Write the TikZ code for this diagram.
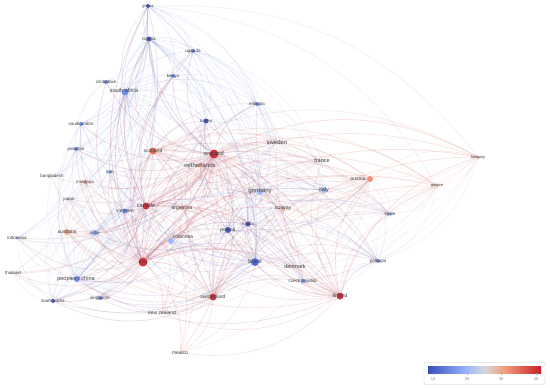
\documentclass[tikz,border=0pt]{standalone}
\usepackage{fontspec}
\setmainfont{Liberation Sans}
\pgfdeclarelayer{edges}
\pgfsetlayers{edges,main}
\definecolor{vA}{RGB}{59,76,192}
\definecolor{vB}{RGB}{98,130,234}
\definecolor{vC}{RGB}{150,180,250}
\definecolor{vD}{RGB}{215,215,220}
\definecolor{vE}{RGB}{240,160,125}
\definecolor{vF}{RGB}{225,95,75}
\definecolor{vG}{RGB}{200,30,40}
\pgfdeclarehorizontalshading{vosbar}{100bp}{color(0bp)=(vA); color(25bp)=(vA); color(41.5bp)=(vC); color(50bp)=(vD); color(58.5bp)=(vE); color(75bp)=(vG); color(100bp)=(vG)}
\tikzset{
  dot/.style={circle, inner sep=0pt, opacity=0.9},
  lbl/.style={text=black!75, inner sep=0pt},
  link/.style={draw opacity=0.16},
  legendbox/.style={draw=black!20, rounded corners=2pt, fill=white},
  ticklbl/.style={text=black!50, font=\fontsize{4}{4}\selectfont, inner sep=0pt}
}
\begin{document}
\begin{tikzpicture}[x=1pt,y=-1pt]
\useasboundingbox (0,0) rectangle (550,388);
\begin{pgfonlayer}{edges}
\fill[white] (0,0) rectangle (550,388);
\end{pgfonlayer}
% nodes
\foreach \k/\x/\y/\c/\r/\f/\lx/\ly/\t in {
 ghana/148/6/vA/2/4/148/6/ghana,
 nigeria/149/39/vA/2.5/4.5/149/39/nigeria,
 uganda/193/51/vB/2/4.5/193/51/uganda,
 zimbabwe/106/82/vB/2/4.5/106/82/zimbabwe,
 kenya/173/76/vB/2/4.5/173/76/kenya,
 safrica/125/92/vB/3.5/5.5/124/91/south africa,
 ethiopia/257/104/vB/2/4.5/257/104/ethiopia,
 turkey/206/121/vA/2.5/4.5/206/121/turkey,
 saudi/81/124/vB/2/4.5/81/124/saudi arabia,
 pakistan/76/149/vB/2/4.5/76/149/pakistan,
 scotland/153/151/vF/3.5/5/153/151/scotland,
 england/214/154/vG/4.5/5.5/214/154/england,
 netherlands/200/165/vE/2/6/200/165/netherlands,
 sweden/277/142/vD/2.5/6/277/142/sweden,
 france/322/161/vD/2/5.5/322/161/france,
 austria/370/179/vE!60!vF/3/5/358/179/austria,
 hungary/478/157/vE/1.5/4/478/157/hungary,
 greece/437/186/vE/1.5/4/437/186/greece,
 bangladesh/52/176/vD/1.5/4.5/52/176/bangladesh,
 malaysia/85/182/vE/2/4.5/85/182/malaysia,
 iran/110/172/vC/2/4.5/110/172/iran,
 germany/260/192/vC/3/6/260/192/germany,
 italy/324/190/vC/3/5.5/324/190/italy,
 japan/69/199/vD/1.5/4.5/69/199/japan,
 canada/146/206/vG/3.5/5.5/146/206/canada,
 vietnam/125/211/vB/2.5/5/125/211/vietnam,
 argentina/182/208/vE/2/5/182/208/argentina,
 norway/283/209/vE/2/5/283/209/norway,
 australia/67/232/vE/3/5/67/232/australia,
 india/95/233/vC/3/4.5/95/233/india,
 russia/248/224/vA/2.5/4.5/248/224/russia,
 poland/228/230/vA/3/5/228/230/poland,
 colombia/171/241/vC/3/5/183/237/colombia,
 spain/390/214/vC/2/4.5/390/214/spain,
 indonesia/17/238/vC/1.5/4.5/17/238/indonesia,
 usa/143/262/vG/4.5/5/143/262/usa,
 brazil/255/262/vA!70!vB/4/5.5/255/262/brazil,
 denmark/295/267/vD/2/5.5/295/267/denmark,
 portugal/378/261/vB/2/4.5/378/261/portugal,
 thailand/13/273/vD/1.5/4.5/13/273/thailand,
 china/77/279/vB/3/5.5/76/279/peoples r china,
 czech/303/281/vB!50!vC/2.5/4.5/303/281/czech republic,
 skorea/53/301/vA/2/4.5/53/301/south korea,
 singapore/100/298/vB/2/4.5/100/298/singapore,
 switzerland/213/297/vG/3.5/5/213/297/switzerland,
 finland/340/296/vG/3.5/5/340/296/finland,
 nz/162/313/vD!60!vE/1.5/5/162/313/new zealand,
 mexico/180/353/vD!50!vE/1.5/5/180/353/mexico}{
  \xglobal\colorlet{col\k}{\c}
  \node[dot, fill=\c, minimum size=\r*2pt] (\k) at (\x,\y) {};
  \node[lbl, font=\fontsize{\f}{\f}\selectfont] (l\k) at (\lx,\ly) {\t};
}
% edges
\begin{pgfonlayer}{edges}
\foreach \s/\w/\tl in {
 england/0.9/{ghana,nigeria,uganda,zimbabwe,kenya,safrica,ethiopia,turkey,saudi,pakistan,scotland,netherlands,sweden,france,austria,hungary,greece,bangladesh,malaysia,iran,germany,italy,japan,canada,vietnam,argentina,norway,australia,india,russia,poland,colombia,spain,indonesia,usa,brazil,denmark,portugal,thailand,china,czech,skorea,singapore,switzerland,finland,nz,mexico},
 usa/0.9/{ghana,nigeria,uganda,zimbabwe,kenya,safrica,ethiopia,turkey,saudi,pakistan,scotland,netherlands,sweden,france,austria,hungary,greece,bangladesh,malaysia,iran,germany,italy,japan,canada,vietnam,argentina,norway,australia,india,russia,poland,colombia,spain,indonesia,brazil,denmark,portugal,thailand,china,czech,skorea,singapore,switzerland,finland,nz,mexico},
 canada/0.7/{ghana,nigeria,kenya,safrica,scotland,netherlands,sweden,france,austria,hungary,greece,malaysia,iran,germany,italy,japan,vietnam,argentina,norway,australia,india,russia,poland,colombia,spain,indonesia,brazil,denmark,portugal,china,czech,skorea,singapore,switzerland,finland,nz,mexico,thailand},
 scotland/0.7/{nigeria,uganda,kenya,safrica,ethiopia,turkey,pakistan,netherlands,sweden,france,austria,hungary,greece,germany,italy,japan,vietnam,argentina,norway,australia,india,poland,colombia,spain,brazil,denmark,portugal,china,czech,singapore,switzerland,finland,nz,mexico,malaysia,iran},
 switzerland/0.7/{netherlands,sweden,france,austria,hungary,greece,germany,italy,japan,argentina,norway,australia,india,russia,poland,colombia,spain,brazil,denmark,portugal,china,czech,skorea,singapore,finland,nz,mexico,safrica,turkey,vietnam,indonesia,thailand},
 finland/0.7/{netherlands,sweden,france,austria,hungary,greece,germany,italy,norway,australia,russia,poland,spain,brazil,denmark,portugal,china,czech,nz,mexico,turkey,ethiopia,argentina,colombia},
 austria/0.6/{hungary,greece,spain,portugal,italy,germany,france,sweden,netherlands,brazil,czech,denmark,norway,poland,russia,colombia,argentina,nz,mexico,scotland,australia,turkey},
 hungary/0.4/{greece,spain,portugal,italy,germany,france,sweden,netherlands,denmark,norway,czech},
 greece/0.4/{spain,portugal,italy,germany,france,sweden,netherlands,denmark,czech,norway,brazil},
 safrica/0.6/{ghana,nigeria,uganda,zimbabwe,kenya,ethiopia,turkey,saudi,pakistan,iran,malaysia,bangladesh,india,china,brazil,germany,netherlands,sweden,australia,japan,vietnam,colombia,argentina,indonesia,singapore},
 nigeria/0.5/{ghana,uganda,kenya,ethiopia,turkey,saudi,pakistan,zimbabwe,brazil,china,india,germany,netherlands,sweden,iran,malaysia,bangladesh,poland,russia},
 ghana/0.4/{uganda,kenya,ethiopia,zimbabwe,turkey,pakistan,saudi,indonesia,thailand,hungary,greece,brazil,germany,china,india,sweden},
 uganda/0.4/{kenya,ethiopia,zimbabwe,turkey,brazil,germany,sweden,italy,france},
 kenya/0.4/{ethiopia,zimbabwe,turkey,brazil,germany,sweden,pakistan,india},
 ethiopia/0.4/{turkey,germany,sweden,brazil,italy,france,russia,norway,denmark},
 brazil/0.6/{russia,poland,germany,italy,spain,portugal,czech,denmark,colombia,argentina,china,india,skorea,singapore,norway,sweden,france,netherlands,turkey,iran,pakistan,saudi,vietnam,japan,mexico,nz},
 russia/0.5/{poland,germany,italy,spain,portugal,czech,denmark,china,india,turkey,iran,norway,sweden,france},
 poland/0.5/{germany,italy,spain,portugal,czech,denmark,china,india,turkey,colombia,vietnam,norway,sweden,france},
 china/0.5/{skorea,singapore,japan,india,vietnam,malaysia,pakistan,bangladesh,indonesia,thailand,australia,iran,saudi,germany,italy,sweden,netherlands,colombia,nz},
 skorea/0.4/{singapore,japan,india,vietnam,indonesia,thailand,australia,germany,italy},
 india/0.4/{pakistan,bangladesh,malaysia,iran,saudi,vietnam,japan,australia,indonesia,singapore,germany,italy},
 germany/0.4/{italy,france,sweden,netherlands,norway,spain,portugal,denmark,czech,colombia,argentina,australia,japan},
 italy/0.4/{france,sweden,netherlands,spain,portugal,denmark,czech,norway,colombia,argentina},
 portugal/0.4/{spain,czech,denmark,france,sweden,colombia,argentina},
 vietnam/0.4/{malaysia,iran,pakistan,japan,australia,colombia,argentina,singapore},
 australia/0.4/{indonesia,thailand,japan,malaysia,bangladesh,nz,singapore,pakistan,iran,saudi},
 saudi/0.3/{pakistan,iran,malaysia,bangladesh,zimbabwe,turkey,indonesia},
 pakistan/0.3/{bangladesh,malaysia,iran,zimbabwe,indonesia,thailand},
 turkey/0.3/{iran,pakistan,germany,italy,sweden},
 netherlands/0.4/{sweden,france,germany,norway,denmark,spain,colombia,argentina}}{
  \foreach \t in \tl {
    \draw[link, draw=col\s!55!col\t, line width=\w pt] (\s) to[bend left=27] (\t);
  }
}
\end{pgfonlayer}
% legend
\node[legendbox, minimum width=121pt, minimum height=22pt] (legend) at (484.5,373.5) {};
\shade[shading=vosbar] (428,366.5) rectangle (541,373);
\foreach \v/\x in {10/433,20/467,30/501,40/536}{
  \draw[black!35, line width=0.3pt] (\x,373) -- (\x,375);
  \node[ticklbl] (tick\v) at (\x,379.5) {\v};
}
\end{tikzpicture}
\end{document}
